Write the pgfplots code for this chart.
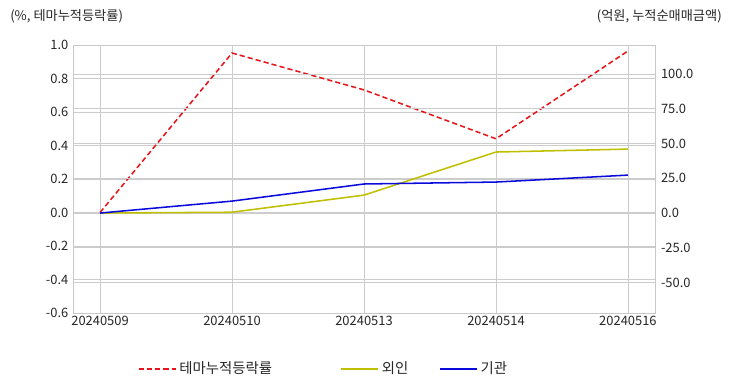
\documentclass[border=0pt]{standalone}
\usepackage{pgfplots}
\pgfplotsset{compat=1.18}
\usepackage{fontspec}
\setmainfont{Noto Sans CJK KR}
\definecolor{gridc}{HTML}{CCCCCC}
\definecolor{framec}{HTML}{C8C8C8}
\definecolor{txt}{HTML}{262626}
\definecolor{redl}{HTML}{E8141A}
\definecolor{yell}{HTML}{BFBF00}
\definecolor{bluel}{HTML}{0A0ADC}
\pgfplotsset{
  common/.style={
    at={(54.75pt,59.25pt)}, anchor=south west,
    scale only axis, width=436.5pt, height=201pt,
    xmin=-0.205, xmax=4.205,
    axis line style={framec, line width=0.7pt},
    grid style={gridc, line width=0.6pt},
    tick style={draw=none},
    every tick label/.append style={text=txt, font=\fontsize{9.7}{11}\selectfont},
    /pgf/number format/assume math mode=true,
    /pgf/number format/fixed, /pgf/number format/fixed zerofill, /pgf/number format/precision=1,
    legend columns=-1,
    legend style={draw=none, fill=none, font=\fontsize{10.8}{12}\selectfont, text=txt,
      /tikz/every even column/.append style={column sep=21pt}},
  }
}
\begin{document}
\fontsize{9.9}{11}\selectfont
\begin{tikzpicture}
\useasboundingbox (0,0) rectangle (549pt,294pt);
\begin{axis}[common,
  ymin=-0.6, ymax=1.0, ytick={-0.6,-0.4,...,1.01},
  xtick={0,1,2,3,4},
  xticklabels={20240509,20240510,20240513,20240514,20240516},
  xticklabel style={yshift=1pt},
  ymajorgrids, xmajorgrids,
  legend style={at={(0.104,-0.209)}, anchor=west},
  legend image code/.code={\path (0pt,0pt) -- (28pt,0pt);\draw[#1] (0pt,0pt) -- (18.75pt,0pt);},
]
\addplot[redl, line width=1.15pt, dash pattern=on 3.9pt off 2.3pt] coordinates {(0,0) (1,0.952) (2,0.732) (3,0.440) (4,0.964)};
\addlegendentry{테마누적등락률}
\end{axis}
\begin{axis}[common,
  axis y line*=right, axis x line=none,
  ymin=-71.9, ymax=120.9, ytick={-50,-25,0,25,50,75,100},
  ymajorgrids,
  yticklabel style={xshift=1pt},
  legend style={at={(0.452,-0.209)}, anchor=west},
  legend image code/.code={\path (0pt,0pt) -- (28pt,0pt);\draw[#1] (0pt,0pt) -- (18.75pt,0pt);},
]
\addplot[yell, line width=1.15pt] coordinates {(0,0) (1,0.6) (2,12.9) (3,43.9) (4,46.0)};
\addlegendentry{외인}
\addplot[bluel, line width=1.15pt] coordinates {(0,0) (1,8.6) (2,20.9) (3,22.3) (4,27.3)};
\addlegendentry{기관}
\end{axis}
\node[anchor=west, text=txt, inner sep=0pt] at (7.5pt,282pt) {(\%, 테마누적등락률)};
\node[anchor=east, text=txt, inner sep=0pt] at (541.5pt,282pt) {(억원, 누적순매매금액)};
\end{tikzpicture}
\end{document}
